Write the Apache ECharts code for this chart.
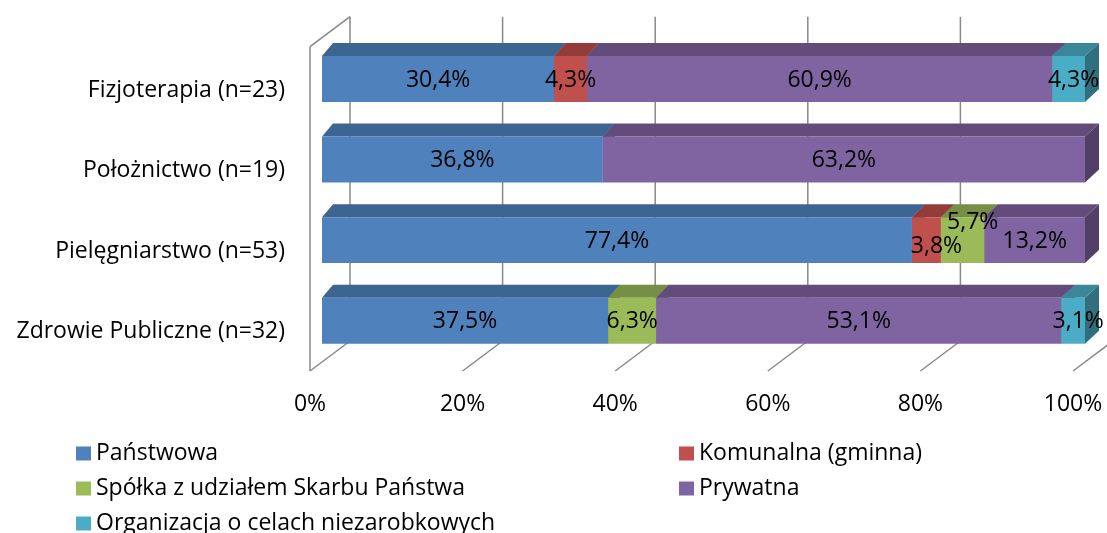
<!DOCTYPE html>
<html>
<head>
<meta charset="utf-8">
<script src="https://cdn.jsdelivr.net/npm/echarts@6/dist/echarts.min.js"></script>
<style>
  html, body { margin: 0; padding: 0; background: #fff; }
  #main { width: 1107px; height: 533px; }
</style>
</head>
<body>
<div id="main"></div>
<script>
const categories = ['Fizjoterapia (n=23)', 'Położnictwo (n=19)', 'Pielęgniarstwo (n=53)', 'Zdrowie Publiczne (n=32)']
const seriesNames = ['Państwowa', 'Komunalna (gminna)', 'Spółka z udziałem Skarbu Państwa', 'Prywatna', 'Organizacja o celach niezarobkowych']
const panstwowa = [30.4, 36.8, 77.4, 37.5]
const komunalna = [4.3, 0, 3.8, 0]
const spolka = [0, 0, 5.7, 6.3]
const prywatna = [60.9, 63.2, 13.2, 53.1]
const organizacja = [4.3, 0, 0, 3.1]
const xTicks = [0, 20, 40, 60, 80, 100]

const values = [panstwowa, komunalna, spolka, prywatna, organizacja]

// front / top / side shades, Excel 2007 palette
const palette = [
  { front: '#4F81BD', top: '#3D6592', side: '#33557C' },
  { front: '#C0504D', top: '#943C3A', side: '#7D3331' },
  { front: '#9BBB59', top: '#778F44', side: '#65793A' },
  { front: '#8064A2', top: '#634C7C', side: '#523F67' },
  { front: '#4BACC6', top: '#3A8799', side: '#306F7E' }
]

// small label nudges where Excel moved labels to avoid overlap (cat-series)
const labelNudge = { '2-1': [10, 5], '2-2': [10, -19], '0-4': [5, 0], '3-4': [5, 0] }

const FONT = '"Open Sans", "Noto Sans", sans-serif'
const FS = 23
const DY = 13

function depthX (v) {
  return 11 + 3 * v / 100
}

function fmt (v) {
  return v.toFixed(1).replace('.', ',') + '%'
}

// 100% stacking
const totals = categories.map((c, i) => values.reduce((s, arr) => s + arr[i], 0))
const cum = categories.map(() => 0)
const stacked = values.map((arr) => {
  return arr.map((v, i) => {
    const start = cum[i] / totals[i] * 100
    cum[i] += v
    const end = cum[i] / totals[i] * 100
    return [i, start, end, v]
  })
})

function makeRender (k) {
  const col = palette[k]
  return function (params, api) {
    const cat = api.value(0)
    const s = api.value(1)
    const e = api.value(2)
    if (e - s <= 0) return null
    const p0 = api.coord([s, cat])
    const p1 = api.coord([e, cat])
    const h = api.size([0, 1])[1] * 0.57
    const yT = p0[1] - h / 2
    const yB = p0[1] + h / 2
    const d0 = depthX(s)
    const d1 = depthX(e)
    const nudge = labelNudge[cat + '-' + k] || [0, 0]
    return {
      type: 'group',
      children: [
        {
          type: 'polygon',
          shape: { points: [[p0[0], yT], [p0[0] + d0, yT - DY], [p1[0] + d1, yT - DY], [p1[0], yT]] },
          style: { fill: col.top }
        },
        {
          type: 'polygon',
          shape: { points: [[p1[0], yT], [p1[0] + d1, yT - DY], [p1[0] + d1, yB - DY], [p1[0], yB]] },
          style: { fill: col.side }
        },
        {
          type: 'rect',
          shape: { x: p0[0], y: yT, width: p1[0] - p0[0], height: h },
          style: { fill: col.front }
        },
        {
          type: 'text',
          z2: 100,
          style: {
            text: fmt(api.value(3)),
            x: (p0[0] + p1[0]) / 2 + nudge[0],
            y: p0[1] + 1 + nudge[1],
            align: 'center',
            verticalAlign: 'middle',
            fill: '#000',
            fontSize: FS,
            fontFamily: FONT
          }
        }
      ]
    }
  }
}

// back wall, floor and left wall lines
function renderFrame (params, api) {
  const v = api.value(0)
  const band = api.size([0, 1])[1]
  const x = api.coord([v, 0])[0]
  const top = api.coord([v, 0])[1] - band / 2
  const bottom = api.coord([v, categories.length - 1])[1] + band / 2
  const lineStyle = { stroke: '#888888', lineWidth: 1.5 }
  const backTop = top - 22
  const floorBack = bottom - 20
  const floorFront = bottom + 10
  const children = [
    { type: 'line', shape: { x1: x + 28, y1: backTop, x2: x + 28, y2: floorBack }, style: lineStyle },
    { type: 'line', shape: { x1: x - 12, y1: floorFront, x2: x + 28, y2: floorBack }, style: lineStyle }
  ]
  if (v === 0) {
    children.push(
      { type: 'line', shape: { x1: x - 12, y1: backTop + 30, x2: x - 12, y2: floorFront }, style: lineStyle },
      { type: 'line', shape: { x1: x - 12, y1: backTop + 30, x2: x + 28, y2: backTop }, style: lineStyle }
    )
  }
  return { type: 'group', children }
}

const chart = echarts.init(document.getElementById('main'))

const series = [{
  type: 'custom',
  name: 'frame',
  z: 1,
  silent: true,
  renderItem: renderFrame,
  encode: { x: 0 },
  data: xTicks.map((t) => [t])
}]

stacked.forEach((data, k) => {
  series.push({
    type: 'custom',
    name: seriesNames[k],
    z: 2,
    renderItem: makeRender(k),
    itemStyle: { color: palette[k].front },
    encode: { x: [1, 2], y: 0 },
    data
  })
})

const legendBase = {
  orient: 'vertical',
  top: 442,
  height: 120,
  padding: 0,
  icon: 'rect',
  itemWidth: 15,
  itemHeight: 14,
  itemGap: 12,
  textStyle: { fontSize: FS, fontFamily: FONT, color: '#000', lineHeight: 21 }
}

chart.setOption({
  animation: false,
  grid: { left: 322, right: 22, top: 38.7, bottom: 172, outerBoundsMode: 'none' },
  xAxis: {
    type: 'value',
    min: 0,
    max: 100,
    interval: 20,
    splitLine: { show: false },
    axisLine: { show: false },
    axisTick: { show: false },
    axisLabel: {
      formatter: '{value}%',
      margin: 32,
      padding: [0, 24, 0, 0],
      fontSize: FS,
      fontFamily: FONT,
      color: '#000'
    }
  },
  yAxis: {
    type: 'category',
    data: categories,
    inverse: true,
    axisLine: { show: false },
    axisTick: { show: false },
    splitLine: { show: false },
    axisLabel: {
      margin: 37,
      verticalAlign: 'top',
      lineHeight: 22,
      fontSize: FS,
      fontFamily: FONT,
      color: '#000'
    }
  },
  legend: [
    Object.assign({}, legendBase, { left: 76, data: [seriesNames[0], seriesNames[2], seriesNames[4]] }),
    Object.assign({}, legendBase, { left: 679, data: [seriesNames[1], seriesNames[3]] })
  ],
  series
})
</script>
</body>
</html>
